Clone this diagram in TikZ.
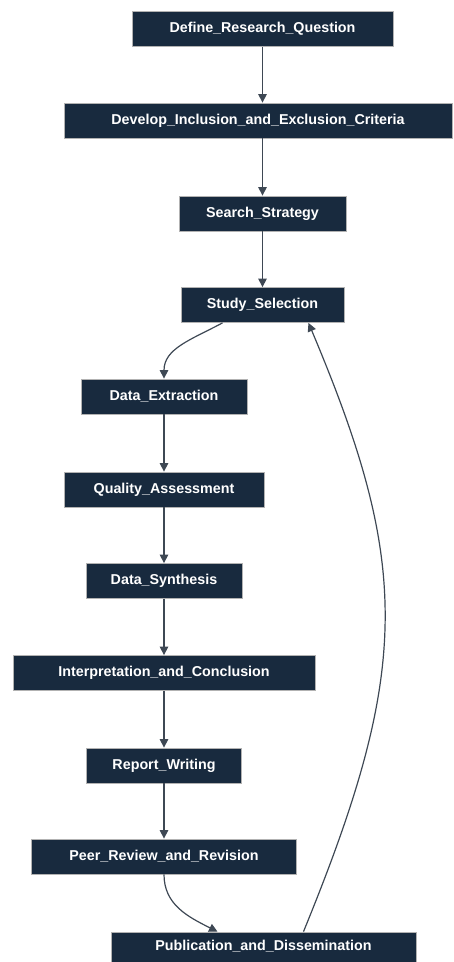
\documentclass[tikz,border=0pt]{standalone}
\usepackage{fontspec}
\setmainfont{Liberation Sans}
\usetikzlibrary{arrows.meta, positioning}
\definecolor{boxnavy}{RGB}{24,42,62}
\definecolor{edgegrey}{RGB}{62,72,84}

\begin{document}
\begin{tikzpicture}[x=1pt, y=-1pt, >={Triangle[length=8.5pt, width=8.5pt]}, thick,
    main/.style = {draw=gray!60, line width=0.8pt, fill=boxnavy, text=white, font=\bfseries\fontsize{14.3}{16}\selectfont, minimum height=35pt, inner sep=0pt, text height=10.5pt, text depth=3.5pt},
    link/.style = {->, draw=edgegrey, line width=1.2pt}]

      \useasboundingbox (0,0) rectangle (454,962);

      % Nodes
      \node[main, minimum width=261pt] (define) at (262.5,29) {Define\_Research\_Question};
      \node[main, minimum width=388pt] (develop) at (258,120.5) {Develop\_Inclusion\_and\_Exclusion\_Criteria};
      \node[main, minimum width=167pt] (search) at (262.5,213.5) {Search\_Strategy};
      \node[main, minimum width=163pt] (study) at (262.5,305) {Study\_Selection};
      \node[main, minimum width=166pt] (extract) at (164,396.5) {Data\_Extraction};
      \node[main, minimum width=200pt] (quality) at (164,489.5) {Quality\_Assessment};
      \node[main, minimum width=156pt] (synth) at (164,581) {Data\_Synthesis};
      \node[main, minimum width=302pt] (interp) at (164,673) {Interpretation\_and\_Conclusion};
      \node[main, minimum width=155pt] (report) at (164,765.5) {Report\_Writing};
      \node[main, minimum width=265pt] (peer) at (164,856.5) {Peer\_Review\_and\_Revision};
      \node[main, minimum width=305pt, minimum height=30pt] (publish) at (263.5,947) {Publication\_and\_Dissemination};

      \draw[link] (define.south) -- (define.south |- develop.north);
      \draw[link] (search.north |- develop.south) -- (search.north);
      \draw[link] (search) -- (study);
      \draw[link] ([xshift=-40pt]study.south) .. controls +(-32,17) and +(0,-30) .. (extract.north);
      \draw[link] (extract) -- (quality);
      \draw[link] (quality) -- (synth);
      \draw[link] (synth) -- (interp);
      \draw[link] (interp) -- (report);
      \draw[link] (report) -- (peer);
      \draw[link] (peer.south) .. controls +(0,30) and +(-30,-15) .. ([xshift=-46pt]publish.north);
      \draw[link] ([xshift=40pt]publish.north) .. controls (411,669) and (411,566) .. ([xshift=46pt]study.south);

    \end{tikzpicture}
\end{document}
